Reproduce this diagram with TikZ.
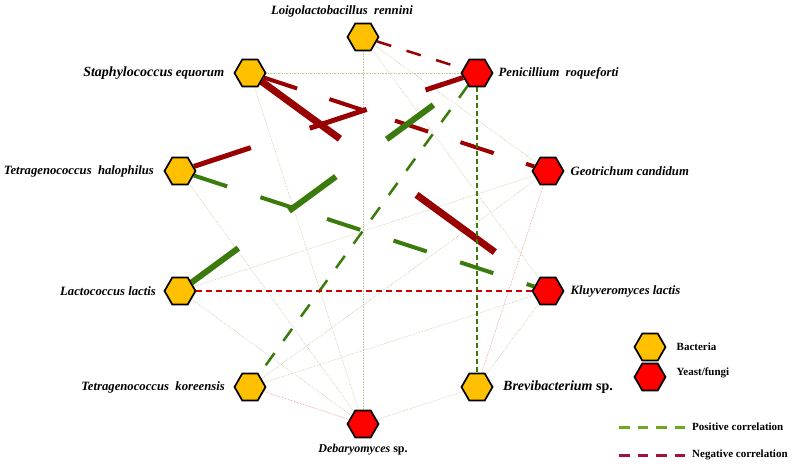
\documentclass[tikz,border=0pt]{standalone}
\usepackage{fontspec}
\setmainfont{Liberation Serif}
\usetikzlibrary{shapes.geometric,positioning,backgrounds}

\definecolor{bactfill}{HTML}{FFC000}
\definecolor{fungfill}{HTML}{FF0000}
\definecolor{negdark}{HTML}{990000}
\definecolor{posdark}{HTML}{3B7A0C}
\definecolor{negmid}{HTML}{CC0000}
\definecolor{weakcol}{HTML}{C4C89E}
\definecolor{weakred}{HTML}{E58A8A}
\definecolor{legpos}{HTML}{6BAA1E}
\definecolor{legneg}{HTML}{A0143C}

\begin{document}
\begin{tikzpicture}[x=1pt,y=1pt,
    every node/.style={font=\fontsize{12.7}{15}\selectfont\bfseries\itshape},
    taxon/.style={regular polygon, regular polygon sides=6, draw=black, line width=1.7pt, minimum size=31pt, inner sep=0pt},
    bact/.style={taxon, fill=bactfill},
    fungus/.style={taxon, fill=fungfill},
    lab/.style={inner sep=1pt},
    legtext/.style={lab, font=\fontsize{11}{13}\selectfont\bfseries},
    weak/.style={weakcol, line width=0.6pt, densely dotted},
    weakneg/.style={weakred, line width=0.6pt, densely dotted}
  ]
  \useasboundingbox (0,0) rectangle (792,466);

  % taxa around the ring
  \node[bact]   (loigo) at (363,429) {};
  \node[bact]   (staph) at (250,393) {};
  \node[fungus] (penic) at (477,393) {};
  \node[bact]   (thalo) at (180,295) {};
  \node[fungus] (geotr) at (548,295) {};
  \node[bact]   (lacto) at (180,175) {};
  \node[fungus] (kluyv) at (548,175) {};
  \node[bact]   (tkore) at (250,79) {};
  \node[bact]   (brevi) at (477,79) {};
  \node[fungus] (debar) at (363,42) {};

  % names
  \node[lab, above=4pt of loigo, xshift=-21pt] (loigolab) {Loigolactobacillus~~rennini};
  \node[lab, left=8pt of staph] (staphlab) {{\fontsize{14}{16}\selectfont Staphylococcus} {\fontsize{13}{15}\selectfont equorum}};
  \node[lab, right=4pt of penic] (peniclab) {Penicillium~~roqueforti};
  \node[lab, left=8.5pt of thalo] (thalolab) {Tetragenococcus~~halophilus};
  \node[lab, right=5pt of geotr] (geotrlab) {Geotrichum candidum};
  \node[lab, left=6.5pt of lacto] (lactolab) {Lactococcus lactis};
  \node[lab, right=5pt of kluyv] (kluyvlab) {Kluyveromyces lactis};
  \node[lab, left=7.5pt of tkore] (tkorelab) {Tetragenococcus~~koreensis};
  \node[lab, right=8.5pt of brevi, font=\fontsize{14}{16}\selectfont\bfseries] (brevilab) {\itshape Brevibacterium\upshape{} sp.};
  \node[lab, below=5pt of debar, font=\fontsize{12}{14}\selectfont\bfseries] (debarlab) {\itshape Debaryomyces\upshape{} sp.};

  \begin{scope}[on background layer]
    % weak links
    \foreach \a/\b in {staph/penic, loigo/debar, loigo/kluyv, loigo/geotr,
                       staph/debar, thalo/debar, lacto/debar, lacto/geotr,
                       tkore/geotr, tkore/kluyv, debar/brevi, kluyv/brevi}
      \draw[weak] (\a) -- (\b);
    \draw[weakneg] (tkore) -- (debar);
    \draw[weakneg] (geotr) -- (brevi);

    % strong links
    \draw[negdark, line width=7pt, dash pattern=on 97pt off 95pt] (staph) -- (kluyv);
    \draw[negdark, line width=4pt, dash pattern=on 35pt off 34pt] (staph) -- (geotr);
    \draw[negdark, line width=5pt, dash pattern=on 60pt off 62pt] (thalo) -- (penic);
    \draw[posdark, line width=4pt, dash pattern=on 35pt off 35pt] (thalo) -- (kluyv);
    \draw[posdark, line width=6pt, dash pattern=on 58pt off 63pt] (lacto) -- (penic);
    \draw[negdark, line width=2.5pt, dash pattern=on 15pt off 16pt] (loigo) -- (penic);
    \draw[posdark, line width=2.5pt, dash pattern=on 15pt off 15pt] (penic) -- (tkore);
    \draw[posdark, line width=1.8pt, dash pattern=on 5pt off 3pt] (penic) -- (brevi);
    \draw[negmid, line width=1.5pt, dash pattern=on 6pt off 4pt] (lacto) -- (kluyv);
  \end{scope}

  % legend
  \node[bact]   (legbact) at (650,119) {};
  \node[fungus] (legfung) at (650,89) {};
  \node[legtext, right=9pt of legbact] (legbactlab) {Bacteria};
  \node[legtext, right=9pt of legfung, yshift=4pt] (legfunglab) {Yeast/fungi};
  \coordinate (posa) at (619,39);
  \coordinate (nega) at (619,11);
  \node[legtext, anchor=west] (poslab) at (691,39) {Positive correlation};
  \node[legtext, anchor=west] (neglab) at (691,11) {Negative correlation};
  \draw[legpos, line width=3pt, dash pattern=on 10.5pt off 8pt, shorten >=6pt] (posa) -- (poslab.west);
  \draw[legneg, line width=3pt, dash pattern=on 10.5pt off 8pt, shorten >=6pt] (nega) -- (neglab.west);
\end{tikzpicture}
\end{document}
